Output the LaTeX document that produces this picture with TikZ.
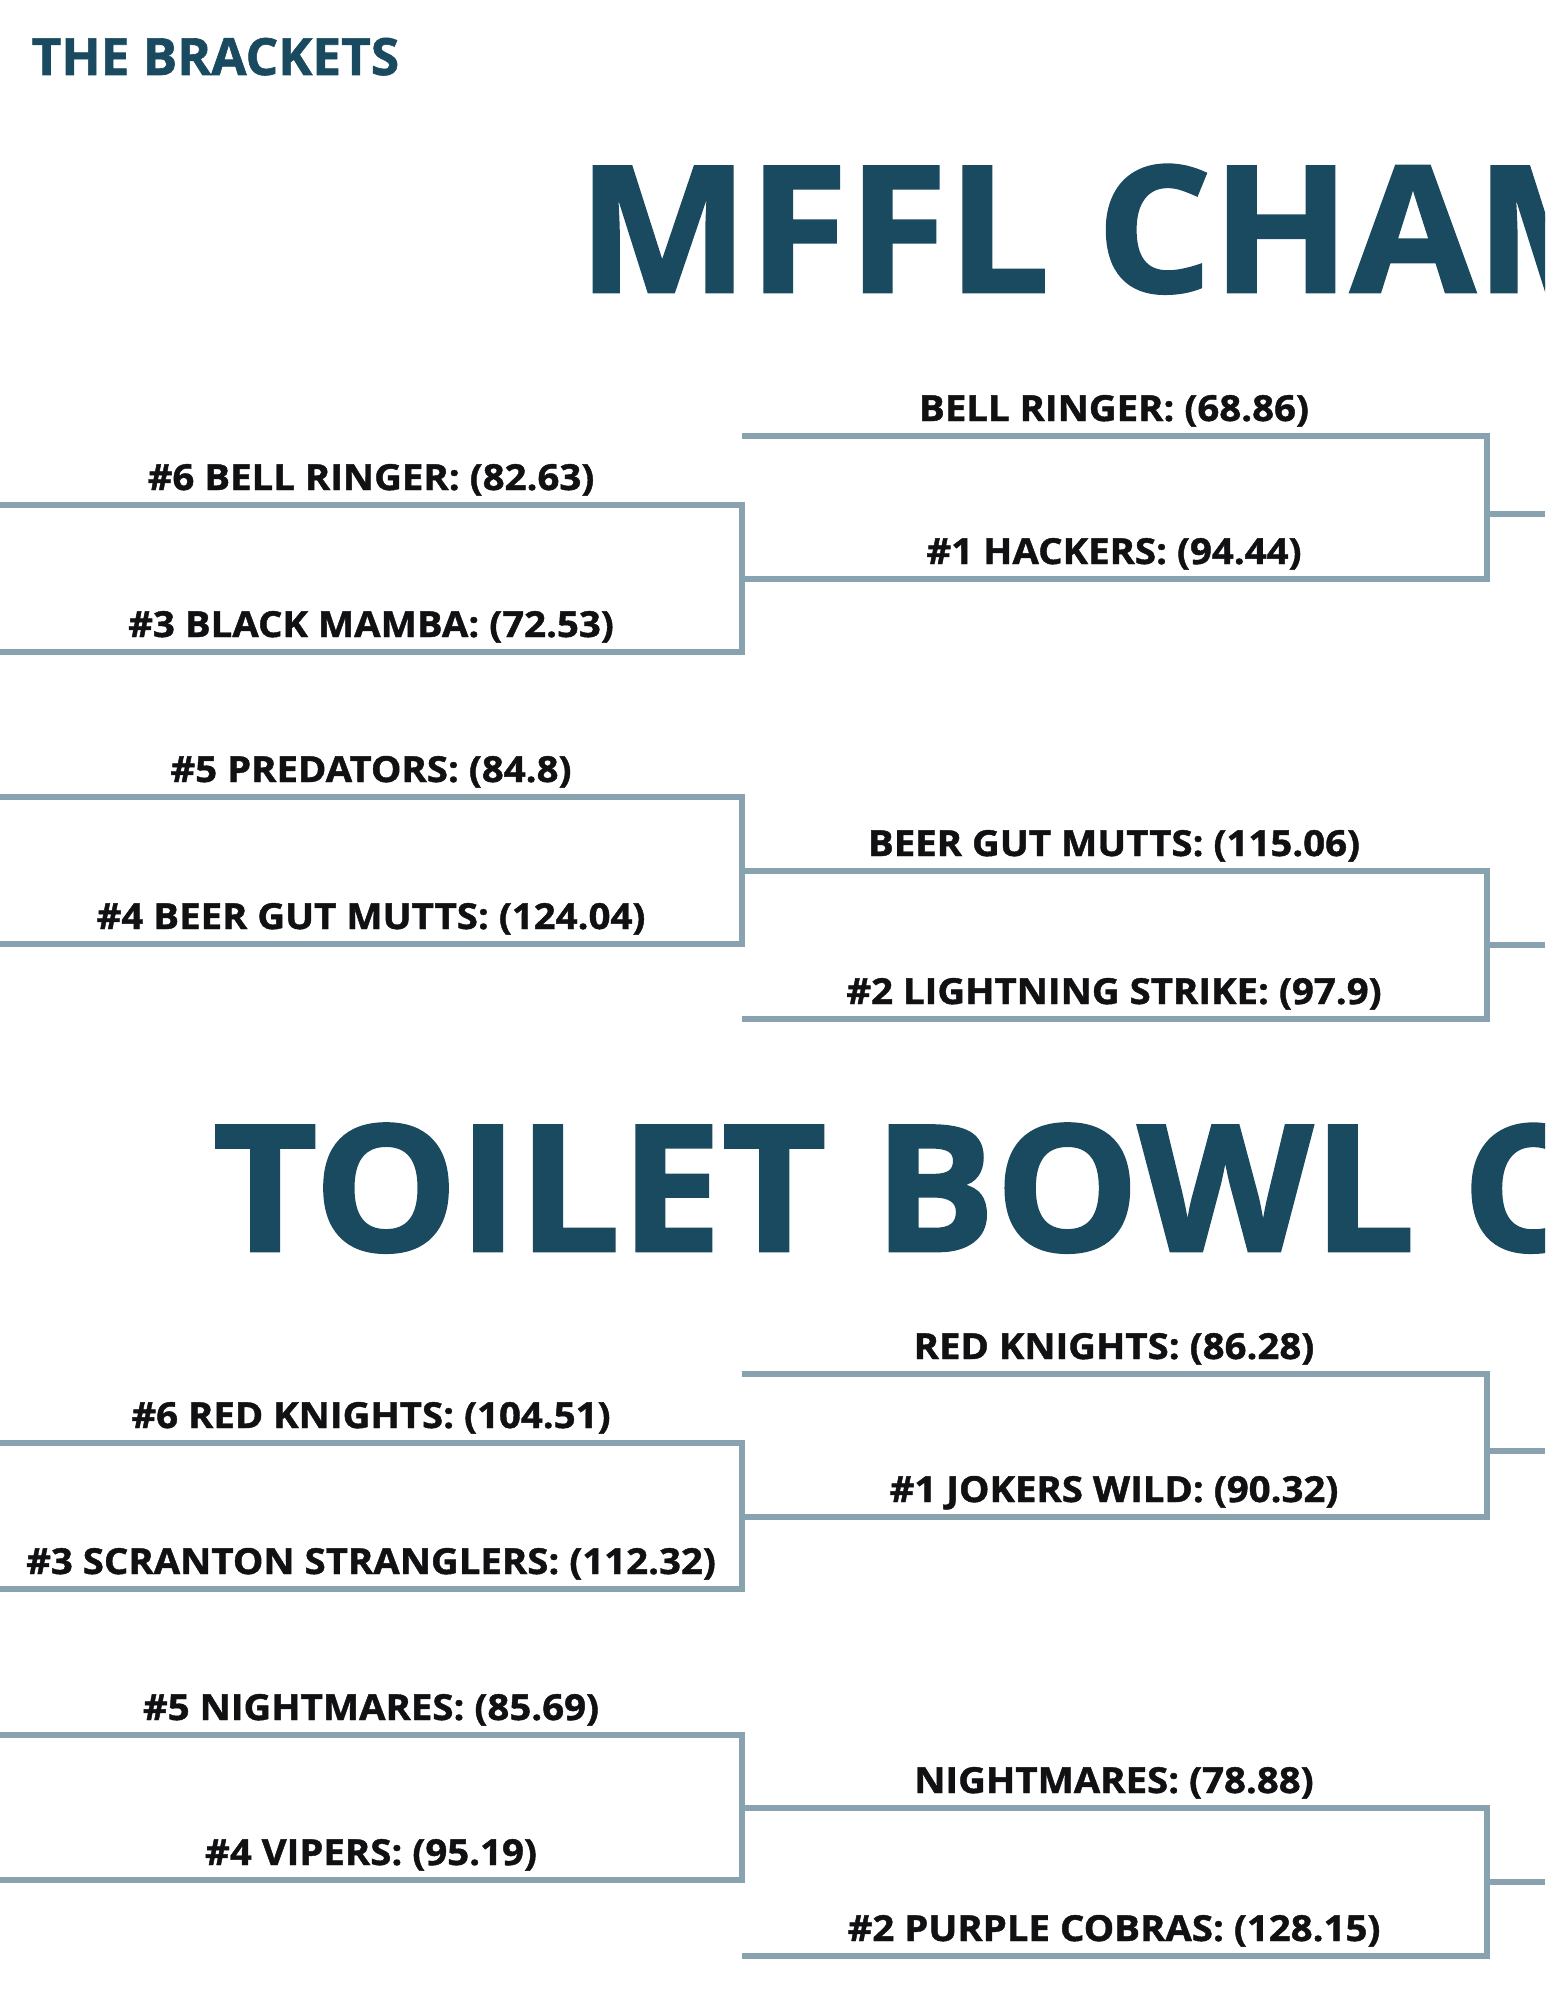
\documentclass[tikz,border=0pt]{standalone}
\usepackage{fontspec}
\setmainfont{Open Sans}
\newfontfamily\heavyfont{Open Sans}[BoldFeatures={FakeBold=1.2}]
\newfontfamily\heavywide{Open Sans}[BoldFeatures={FakeBold=1.2, FakeStretch=1.07}]
\newfontfamily\titlefont{Open Sans}[BoldFeatures={FakeBold=1.5, FakeStretch=1.03}]
\definecolor{titleblue}{HTML}{1A4A60}
\definecolor{bracketline}{HTML}{88A3AF}
\definecolor{teamtext}{HTML}{111114}
\begin{document}
\begin{tikzpicture}[
        x=0.01cm, y=-0.01cm,
        bigtitle/.style={text=titleblue, font=\titlefont\fontsize{50}{60}\selectfont\bfseries, inner sep=0pt, anchor=base west},
        team/.style={text=teamtext, font=\heavywide\fontsize{10.2}{12}\selectfont\bfseries, inner sep=0pt, anchor=base},
        bline/.style={draw=bracketline, line width=1.8pt, line join=miter}
    ]
        % Page frame
        \useasboundingbox (0,0) rectangle (1545,2000);
        \clip (0,0) rectangle (1545,2000);

        % Header
        \node[text=titleblue, font=\heavyfont\fontsize{14.6}{18}\selectfont\bfseries, inner sep=0pt, anchor=base west] (brackets) at (31,75) {THE BRACKETS};

        % Section titles
        \node[bigtitle] (mffl) at (577,292) {MFFL CHAM};
        \node[bigtitle] (toilet) at (212,1251) {TOILET BOWL C};

        % First round: name / top line / bottom line / top team / bottom team
        \foreach \n/\t/\b/\la/\lb in {
            ma/505/652/{\#6 BELL RINGER: (82.63)}/{\#3 BLACK MAMBA: (72.53)},
            mb/797/944/{\#5 PREDATORS: (84.8)}/{\#4 BEER GUT MUTTS: (124.04)},
            ta/1443/1589/{\#6 RED KNIGHTS: (104.51)}/{\#3 SCRANTON STRANGLERS: (112.32)},
            tb/1735/1880/{\#5 NIGHTMARES: (85.69)}/{\#4 VIPERS: (95.19)}}{
            \coordinate (\n-tl) at (0,\t);
            \coordinate (\n-tr) at (742,\t);
            \coordinate (\n-bl) at (0,\b);
            \coordinate (\n-br) at (742,\b);
            \draw[bline] (\n-tl) -- (\n-tr) -- (\n-br) -- (\n-bl);
            \node[team] (\n-top) at (371,{\t-15}) {\la};
            \node[team] (\n-bot) at (371,{\b-15}) {\lb};
        }

        % Second round, with the stub to the next round
        \foreach \n/\t/\b/\s/\la/\lb in {
            mc/436/579/514/{BELL RINGER: (68.86)}/{\#1 HACKERS: (94.44)},
            md/871/1019/945/{BEER GUT MUTTS: (115.06)}/{\#2 LIGHTNING STRIKE: (97.9)},
            tc/1374/1517/1451/{RED KNIGHTS: (86.28)}/{\#1 JOKERS WILD: (90.32)},
            td/1808/1956/1882/{NIGHTMARES: (78.88)}/{\#2 PURPLE COBRAS: (128.15)}}{
            \coordinate (\n-tl) at (742,\t);
            \coordinate (\n-tr) at (1487,\t);
            \coordinate (\n-bl) at (742,\b);
            \coordinate (\n-br) at (1487,\b);
            \coordinate (\n-mid) at (1487,\s);
            \coordinate (\n-out) at (1545,\s);
            \draw[bline] (\n-tl) -- (\n-tr) -- (\n-br) -- (\n-bl);
            \draw[bline] (\n-mid) -- (\n-out);
            \node[team] (\n-top) at (1114,{\t-15}) {\la};
            \node[team] (\n-bot) at (1114,{\b-15}) {\lb};
        }

    \end{tikzpicture}
\end{document}
